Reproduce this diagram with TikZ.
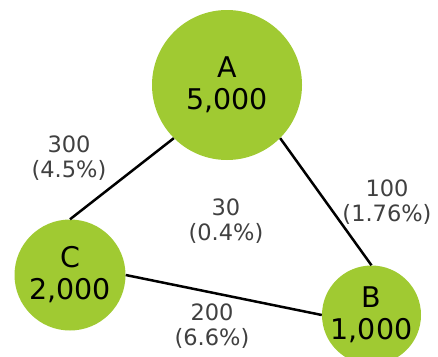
\documentclass[tikz,border=0pt]{standalone}
\usepackage{fontspec}
\setmainfont{DejaVu Sans}
\definecolor{leaf}{RGB}{160,202,50}
\definecolor{ink}{RGB}{64,64,64}
\begin{document}
\begin{tikzpicture}[x=1pt,y=-1pt,
    city/.style={circle,fill=leaf,inner sep=0pt,align=center,
      font=\fontsize{28.5}{32}\selectfont},
    cost/.style={align=center,text=ink,font=\fontsize{22.5}{25}\selectfont},
    road/.style={line width=2.5pt}]
      \useasboundingbox (0,0) rectangle (438,356);
      \node[city,minimum size=150pt] (a) at (227,85) {A\\5,000};
      \node[city,minimum size=111pt] (c) at (70,275) {C\\2,000};
      \node[city,minimum size=93pt] (b) at (371.5,315) {B\\1,000};

      \draw[road] (a.south west) -- (c.north);
      \draw[road] (a.south east) -- (b.north);
      \draw[road] (c.east) -- (b.west);

      \node[cost] (ac) at (69,158) {300\\(4.5\%)};
      \node[cost] (ab) at (387,202) {100\\(1.76\%)};
      \node[cost] (cb) at (212,326) {200\\(6.6\%)};
      \node[cost] (mid) at (226,221) {30\\(0.4\%)};
    \end{tikzpicture}
\end{document}
